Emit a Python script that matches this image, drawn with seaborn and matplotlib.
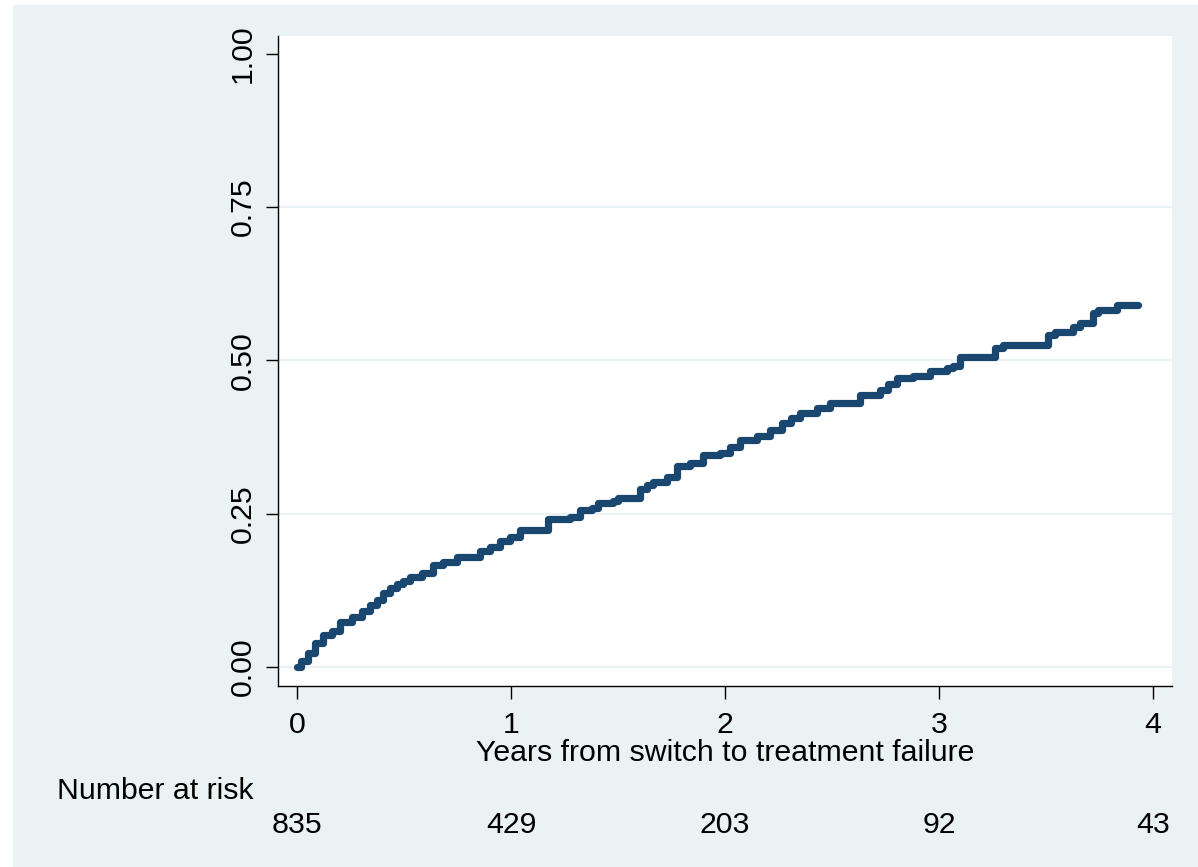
import seaborn as sns
from matplotlib import pyplot as plt
from matplotlib.patches import Rectangle
import pandas as pd

# Kaplan-Meier failure estimate
years = [0, 0.02, 0.05, 0.084, 0.123, 0.162, 0.201, 0.256, 0.302, 0.341,
         0.372, 0.403, 0.435, 0.466, 0.497, 0.528, 0.583, 0.637, 0.684, 0.746,
         0.855, 0.902, 0.949, 0.995, 1.042, 1.175, 1.276, 1.322, 1.377, 1.408,
         1.478, 1.502, 1.603, 1.634, 1.665, 1.728, 1.774, 1.836, 1.899, 1.977,
         2.023, 2.07, 2.148, 2.21, 2.265, 2.31, 2.35, 2.428, 2.491, 2.631,
         2.724, 2.76, 2.802, 2.88, 2.958, 3.036, 3.067, 3.098, 3.262, 3.30,
         3.511, 3.542, 3.628, 3.659, 3.721, 3.745, 3.83, 3.93]
failure = [0, 0.01, 0.022, 0.039, 0.052, 0.058, 0.074, 0.081, 0.091, 0.101,
           0.110, 0.120, 0.128, 0.135, 0.141, 0.147, 0.153, 0.166, 0.171, 0.180,
           0.189, 0.196, 0.206, 0.212, 0.223, 0.241, 0.245, 0.256, 0.259, 0.267,
           0.270, 0.275, 0.291, 0.296, 0.301, 0.310, 0.328, 0.332, 0.346, 0.349,
           0.359, 0.370, 0.376, 0.387, 0.398, 0.406, 0.414, 0.422, 0.430, 0.444,
           0.452, 0.462, 0.471, 0.474, 0.482, 0.487, 0.491, 0.506, 0.520, 0.525,
           0.542, 0.547, 0.555, 0.561, 0.577, 0.582, 0.591, 0.591]

risk_times = [0, 1, 2, 3, 4]
at_risk = [835, 429, 203, 92, 43]
y_ticks = [0, 0.25, 0.5, 0.75, 1.0]
y_labels = ["0.00", "0.25", "0.50", "0.75", "1.00"]

bg = "#EAF2F3"
navy = "#1A476F"
fs = 21.8

sns.set_theme(style="white")
plt.rcParams['font.family'] = ['Liberation Sans', 'DejaVu Sans']

W, H = 1198, 867
fig = plt.figure(figsize=(W / 100, H / 100), dpi=100, facecolor="white")
fig.patches.append(Rectangle((13 / W, 0), 1, 1 - 5 / H, transform=fig.transFigure,
                             facecolor=bg, edgecolor="none", zorder=-10))

ax = fig.add_axes([278 / W, 1 - 686 / H, 894 / W, 650 / H])
ax.set_facecolor("white")

for yv in y_ticks[:-1]:
    ax.axhline(yv, color=bg, lw=1.5, zorder=0)

df = pd.DataFrame({"t": years, "f": failure})
sns.lineplot(data=df, x="t", y="f", ax=ax, color=navy, lw=5.2,
             drawstyle="steps-post", estimator=None, sort=False,
             solid_capstyle="round", solid_joinstyle="round", zorder=3)

ax.set_xlim(-0.089, 4.089)
ax.set_ylim(-0.031, 1.029)
ax.set_xticks(risk_times)
ax.set_xticklabels([str(t) for t in risk_times])
ax.set_yticks(y_ticks)
ax.set_yticklabels(y_labels, rotation=90, va="center")

for s in ["top", "right"]:
    ax.spines[s].set_visible(False)
for s in ["left", "bottom"]:
    ax.spines[s].set_color("black")
    ax.spines[s].set_linewidth(1.0)

ax.tick_params(axis="both", which="major", direction="out", length=9, width=1.0,
               color="black", labelsize=fs, labelcolor="black", pad=9,
               left=True, bottom=True)
ax.tick_params(axis="y", pad=6)
ax.grid(False)

ax.set_xlabel("Years from switch to treatment failure", fontsize=fs,
              color="black", labelpad=0)
ax.set_ylabel("")

fig.text(57 / W, 1 - 791 / H, "Number at risk", fontsize=fs, color="black",
         ha="left", va="center")
for t, n in zip(risk_times, at_risk):
    ax.text(t, (686 - 825) / 650, str(n), transform=ax.get_xaxis_transform(),
            fontsize=fs, color="black", ha="center", va="center")

fig.savefig("out.png", dpi=100, facecolor=fig.get_facecolor())
